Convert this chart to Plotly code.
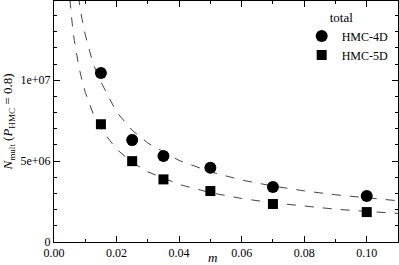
import plotly.graph_objects as go

# Data points
m_pts = [0.015, 0.025, 0.035, 0.05, 0.07, 0.10]
n_4d = [10.45e6, 6.30e6, 5.31e6, 4.59e6, 3.40e6, 2.84e6]
err_4d = [0.12e6, 0.30e6, 0.12e6, 0.12e6, 0.10e6, 0.08e6]
n_5d = [7.28e6, 5.00e6, 3.87e6, 3.15e6, 2.35e6, 1.85e6]
err_5d = [0.08e6, 0.08e6, 0.06e6, 0.06e6, 0.05e6, 0.05e6]

# Fit curves
m_fit4 = [0.007, 0.0075, 0.008, 0.0085, 0.009, 0.01, 0.0125, 0.015, 0.02, 0.025, 0.03,
          0.04, 0.05, 0.06, 0.07, 0.08, 0.09, 0.10, 0.11]
fit_4d = [16.3e6, 15.54e6, 14.88e6, 14.29e6, 13.75e6, 12.81e6, 11.02e6, 9.9e6, 8.03e6,
          6.91e6, 6.12e6, 5.04e6, 4.34e6, 3.83e6, 3.46e6, 3.16e6, 2.92e6, 2.72e6, 2.55e6]
m_fit5 = [0.0045, 0.005, 0.0055, 0.006, 0.0065, 0.007, 0.008, 0.009, 0.01, 0.0125, 0.015,
          0.02, 0.025, 0.03, 0.04, 0.05, 0.06, 0.07, 0.08, 0.09, 0.10, 0.11]
fit_5d = [16.1e6, 14.93e6, 13.98e6, 13.16e6, 12.46e6, 11.84e6, 10.79e6, 9.96e6, 9.26e6,
          7.94e6, 7.00e6, 5.74e6, 4.92e6, 4.34e6, 3.56e6, 3.05e6, 2.69e6, 2.42e6, 2.21e6,
          2.03e6, 1.89e6, 1.77e6]

x_ticks = [0.0, 0.02, 0.04, 0.06, 0.08, 0.10]
x_labels = ["0.00", "0.02", "0.04", "0.06", "0.08", "0.10"]
y_ticks = [0, 5e6, 1e7]
y_labels = ["0", "5e+06", "1e+07"]

FONT = "Times New Roman"

fig = go.Figure()
fig.add_trace(go.Scatter(x=m_fit4, y=fit_4d, mode="lines", line=dict(color="#444", width=1, dash="dash"),
                         showlegend=False, hoverinfo="skip"))
fig.add_trace(go.Scatter(x=m_fit5, y=fit_5d, mode="lines", line=dict(color="#444", width=1, dash="dash"),
                         showlegend=False, hoverinfo="skip"))
fig.add_trace(go.Scatter(x=m_pts, y=n_4d, mode="markers", name="HMC-4D",
                         marker=dict(symbol="circle", size=12, color="black"),
                         error_y=dict(type="data", array=err_4d, color="black", thickness=1, width=3)))
fig.add_trace(go.Scatter(x=m_pts, y=n_5d, mode="markers", name="HMC-5D",
                         marker=dict(symbol="square", size=10, color="black"),
                         error_y=dict(type="data", array=err_5d, color="black", thickness=1, width=3)))

axis_common = dict(showline=True, linecolor="black", linewidth=1, mirror="allticks",
                   ticks="inside", ticklen=6, tickcolor="black", showgrid=False, zeroline=False,
                   automargin=False,
                   tickfont=dict(family=FONT, size=12, color="black"))

fig.update_xaxes(range=[0, 0.11], tickvals=x_ticks, ticktext=x_labels,
                 minor=dict(dtick=0.01, ticks="inside", ticklen=3, tickcolor="black", showgrid=False),
                 **axis_common)
fig.update_yaxes(range=[0, 1.49e7], tickvals=y_ticks, ticktext=y_labels,
                 minor=dict(dtick=1e6, ticks="inside", ticklen=3, tickcolor="black", showgrid=False),
                 title=dict(text="<i>N</i><sub>mult</sub> (<i>P</i><sub>HMC</sub> = 0.8)",
                            font=dict(family=FONT, size=13, color="black"), standoff=4),
                 **axis_common)

fig.add_annotation(text="<i>m</i>", xref="paper", yref="paper", x=0.462, y=-0.066,
                   xanchor="center", yanchor="middle", showarrow=False,
                   font=dict(family=FONT, size=13, color="black"))

fig.update_layout(
    width=399, height=265,
    margin=dict(l=54, r=1, t=1, b=23),
    plot_bgcolor="white", paper_bgcolor="white",
    font=dict(family=FONT, size=12, color="black"),
    legend=dict(x=0.72, y=0.985, xanchor="left", yanchor="top",
                title=dict(text="&nbsp;&nbsp;&nbsp;&nbsp;&nbsp;&nbsp;&nbsp;&nbsp;total",
                           font=dict(family=FONT, size=13)),
                font=dict(family=FONT, size=12), bgcolor="rgba(0,0,0,0)",
                itemwidth=30, tracegroupgap=0),
)

fig.write_html("out.html", config={"displayModeBar": False},
               post_script="document.body.style.margin='0';")
